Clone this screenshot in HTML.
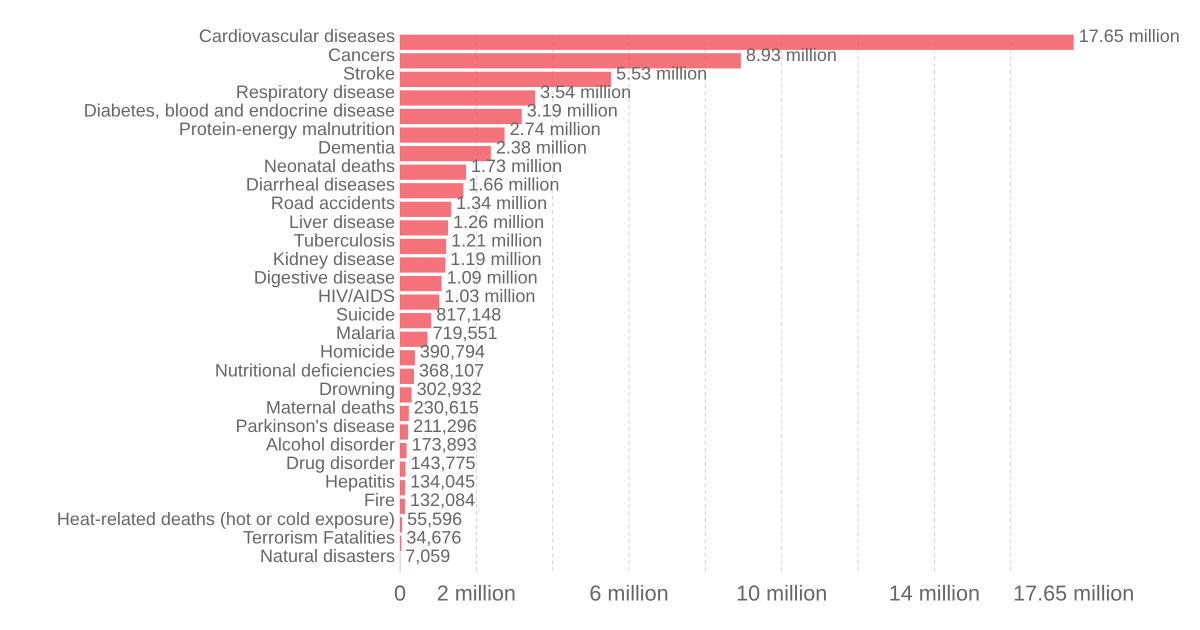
<!DOCTYPE html>
<html>
<head>
<meta charset="utf-8">
<style>
html,body{margin:0;padding:0;background:#fff;width:1200px;height:630px;overflow:hidden}
svg{display:block}
text{font-family:"Liberation Sans",sans-serif;fill:#666;text-rendering:geometricPrecision}
</style>
</head>
<body>
<svg id="chart" width="1200" height="630" viewBox="0 0 1200 630" xmlns="http://www.w3.org/2000/svg"></svg>
<script>
const categories = ["Cardiovascular diseases","Cancers","Stroke","Respiratory disease","Diabetes, blood and endocrine disease","Protein-energy malnutrition","Dementia","Neonatal deaths","Diarrheal diseases","Road accidents","Liver disease","Tuberculosis","Kidney disease","Digestive disease","HIV/AIDS","Suicide","Malaria","Homicide","Nutritional deficiencies","Drowning","Maternal deaths","Parkinson's disease","Alcohol disorder","Drug disorder","Hepatitis","Fire","Heat-related deaths (hot or cold exposure)","Terrorism Fatalities","Natural disasters"];
const deaths = [17650000,8930000,5530000,3540000,3190000,2740000,2380000,1730000,1660000,1340000,1260000,1210000,1190000,1090000,1030000,817148,719551,390794,368107,302932,230615,211296,173893,143775,134045,132084,55596,34676,7059];
const valueLabels = ["17.65 million","8.93 million","5.53 million","3.54 million","3.19 million","2.74 million","2.38 million","1.73 million","1.66 million","1.34 million","1.26 million","1.21 million","1.19 million","1.09 million","1.03 million","817,148","719,551","390,794","368,107","302,932","230,615","211,296","173,893","143,775","134,045","132,084","55,596","34,676","7,059"];
const gridTicks = [2000000,4000000,6000000,8000000,10000000,12000000,14000000,16000000];
const axisTicks = [0,2000000,6000000,10000000,14000000,17650000];
const axisLabels = ["0","2 million","6 million","10 million","14 million","17.65 million"];

const svg = document.getElementById('chart');
const NS = 'http://www.w3.org/2000/svg';
const plotLeft = 400, plotTop = 33, pxPerUnit = 38.17 / 1000000;
const band = 18.56;
const barH = 15.2;
const xScale = v => plotLeft + v * pxPerUnit;
const yScale = i => plotTop + band * i + (band - barH) / 2;
const textY = i => plotTop + band * i + 9.2;
const slug = s => s.toLowerCase().replace(/[^a-z0-9]+/g, '-').replace(/^-|-$/g, '');

function make(tag, attrs, text) {
  const el = document.createElementNS(NS, tag);
  for (const k in attrs) el.setAttribute(k, attrs[k]);
  if (text !== undefined) el.textContent = text;
  svg.appendChild(el);
  return el;
}

gridTicks.forEach(t => {
  const el = make('line', {x1: xScale(t), x2: xScale(t), y1: 35, y2: 573, stroke: '#d4d4d4', 'stroke-width': 1, 'stroke-dasharray': '4 3'});
  
  
});

const baseline = make('line', {x1: plotLeft, x2: plotLeft, y1: 35, y2: 573, stroke: '#e3d3d5', 'stroke-width': 1});



categories.forEach((c, i) => {
  const bar = make('rect', {x: plotLeft, y: yScale(i), width: xScale(deaths[i]) - plotLeft, height: barH, fill: '#f2565e', 'fill-opacity': 0.83});
  
  

  const label = make('text', {x: plotLeft - 5, y: textY(i), 'text-anchor': 'end', 'font-size': 18}, c);
  
  

  const value = make('text', {x: xScale(deaths[i]) + 5, y: textY(i), 'font-size': 18}, valueLabels[i]);
  
  
});

axisTicks.forEach((t, i) => {
  const tick = make('text', {x: xScale(t), y: 600.5, 'text-anchor': 'middle', 'font-size': 21.6}, axisLabels[i]);
  
  
});
</script>
</body>
</html>
